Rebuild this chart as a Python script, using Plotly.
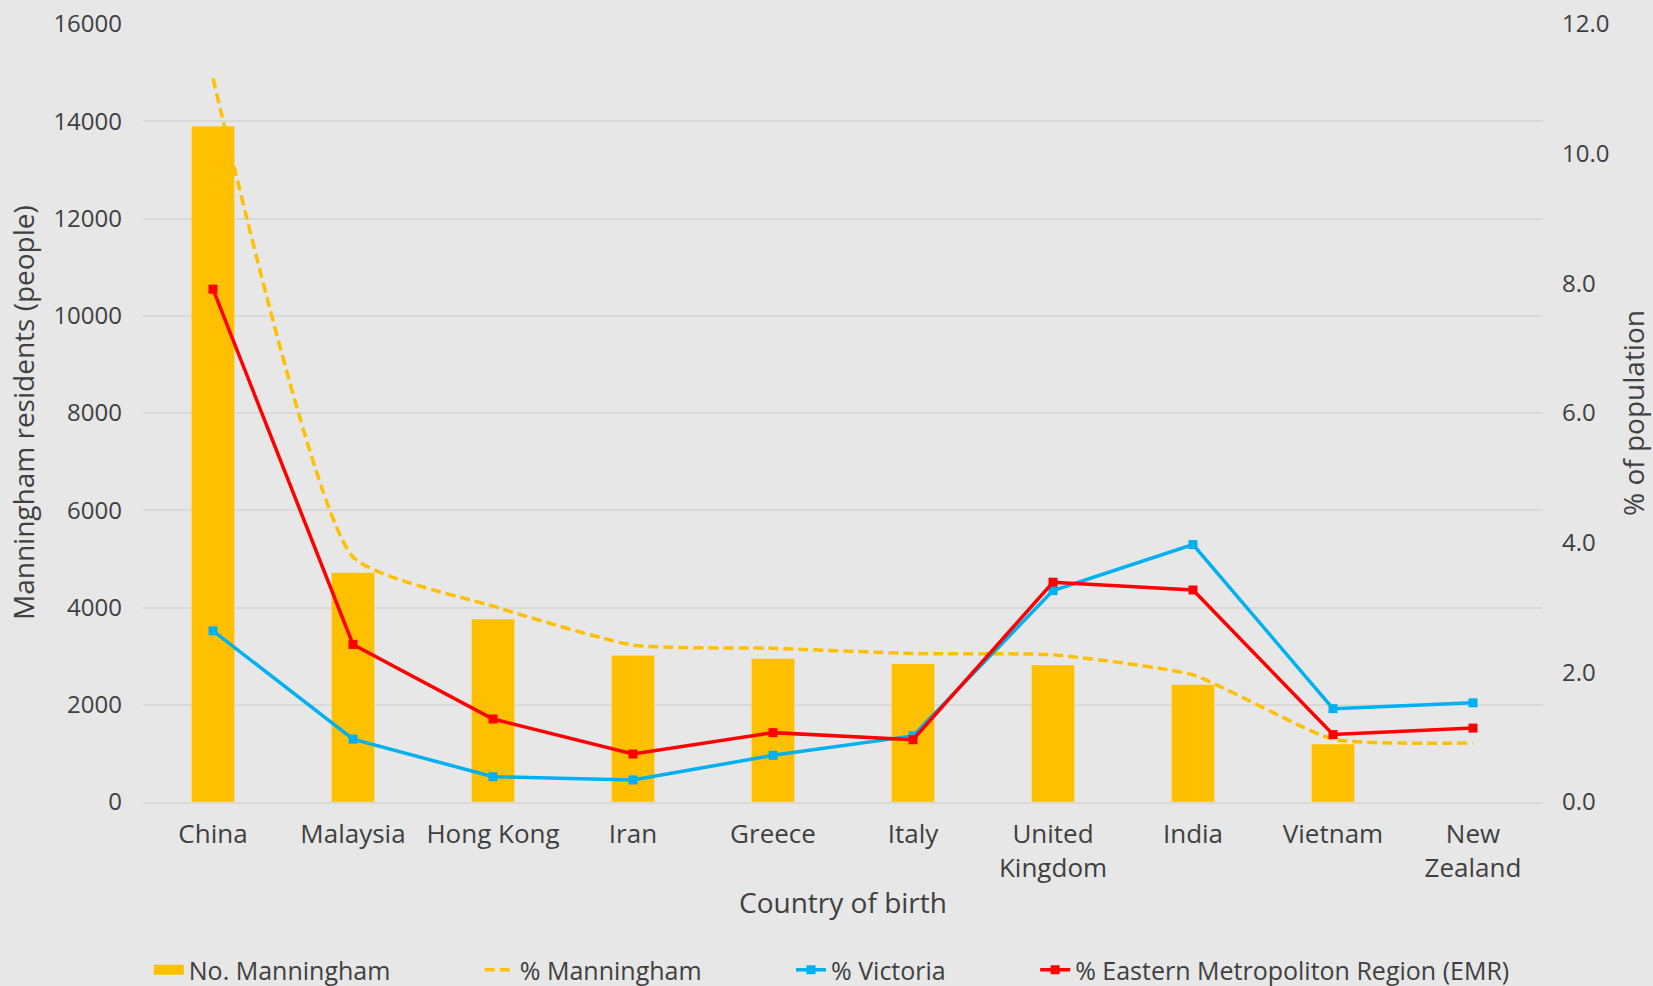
import plotly.graph_objects as go

countries = ["China", "Malaysia", "Hong Kong", "Iran", "Greece", "Italy",
             "United<br>Kingdom", "India", "Vietnam", "New<br>Zealand"]
no_manningham = [13900, 4720, 3765, 3020, 2950, 2845, 2820, 2415, 1195, None]
pct_manningham = [11.16, 3.78, 3.02, 2.42, 2.37, 2.29, 2.27, 1.96, 0.97, 0.91]
pct_victoria = [2.64, 0.97, 0.39, 0.34, 0.72, 1.02, 3.26, 3.97, 1.44, 1.53]
pct_emr = [7.91, 2.43, 1.28, 0.74, 1.07, 0.96, 3.39, 3.27, 1.04, 1.14]

FONT = "Open Sans"
TXT = "#404040"
BG = "#E7E7E7"
GRID = "#D9D9D9"
NB = "\u00a0"

fig = go.Figure()
fig.add_trace(go.Bar(x=countries, y=no_manningham, name="No. Manningham", showlegend=False,
                     marker=dict(color="#FFC000"), yaxis="y"))
# legend swatch for the bars
fig.add_trace(go.Scatter(x=[None], y=[None], name="No. Manningham" + NB * 13, mode="lines",
                         line=dict(color="#FFC000", width=15), yaxis="y"))
fig.add_trace(go.Scatter(x=countries, y=pct_manningham, name="% Manningham" + NB * 13,
                         mode="lines", line=dict(color="#FFC000", width=3.5, dash="10px,5px",
                                                 shape="spline", smoothing=0.5),
                         yaxis="y2"))
fig.add_trace(go.Scatter(x=countries, y=pct_victoria, name="% Victoria" + NB * 13,
                         mode="lines+markers", line=dict(color="#00B0F0", width=3.5),
                         marker=dict(symbol="square", size=9, color="#00B0F0"), yaxis="y2"))
fig.add_trace(go.Scatter(x=countries, y=pct_emr, name="% Eastern Metropoliton Region (EMR)",
                         mode="lines+markers", line=dict(color="#FF0000", width=3.5),
                         marker=dict(symbol="square", size=9, color="#FF0000"), yaxis="y2"))

fig.update_layout(
    width=1653, height=986,
    paper_bgcolor=BG, plot_bgcolor=BG,
    margin=dict(l=143, r=110, t=24, b=184, autoexpand=False),
    font=dict(family=FONT, size=24, color=TXT),
    bargap=0.69,
    showlegend=True,
    legend=dict(orientation="h", x=0.492, xanchor="center", y=-0.216, yanchor="middle",
                font=dict(size=25, color=TXT), bgcolor="rgba(0,0,0,0)",
                traceorder="normal"),
    xaxis=dict(range=[-0.5, 9.5], showgrid=False, showline=True, linecolor=GRID, linewidth=2, ticks="",
               automargin=False, ticklabelstandoff=8, tickfont=dict(size=26),
               title=dict(text="Country of birth", font=dict(size=28, color=TXT), standoff=9)),
    yaxis=dict(range=[0, 16000], dtick=2000, showgrid=True, gridcolor=GRID, gridwidth=2,
               automargin=False, zeroline=False, ticks="", ticklabelstandoff=20, tickformat="d"),
    yaxis2=dict(range=[0, 12], dtick=2, overlaying="y", side="right", showgrid=False,
                automargin=False, zeroline=False, ticks="", tickformat=".1f", ticklabelstandoff=18,
                title=dict(text="% of population", font=dict(size=28, color=TXT), standoff=15)),
    annotations=[dict(text="Manningham residents (people)", xref="paper", yref="paper",
                      x=(23 - 143) / 1400, y=0.5, xanchor="center", yanchor="middle",
                      textangle=-90, showarrow=False, font=dict(size=28, color=TXT))],
)

fig.write_html("out.html", config={"displayModeBar": False},
               post_script="document.body.style.margin='0';")
